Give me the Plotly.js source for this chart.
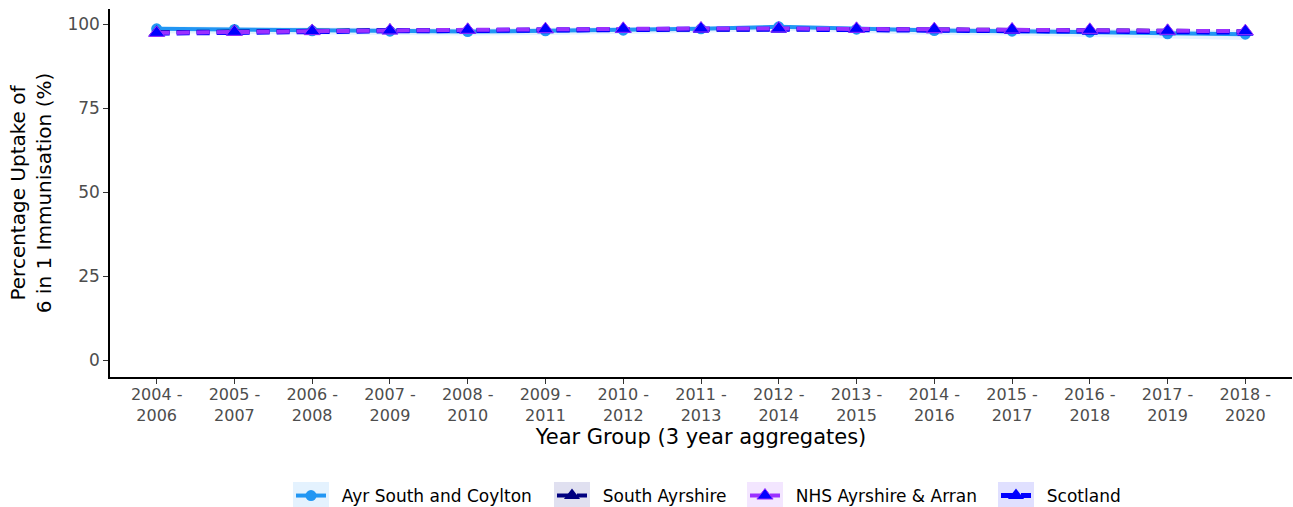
<!DOCTYPE html>
<html><head><meta charset="utf-8">
<script src="https://cdn.plot.ly/plotly-3.0.1.min.js"></script>
<style>html,body{margin:0;padding:0;background:#fff}#chart{width:1293px;height:507px}</style>
</head><body><div id="chart"></div>
<script>
const categories = ["2004 -<br>2006","2005 -<br>2007","2006 -<br>2008","2007 -<br>2009","2008 -<br>2010","2009 -<br>2011","2010 -<br>2012","2011 -<br>2013","2012 -<br>2014","2013 -<br>2015","2014 -<br>2016","2015 -<br>2017","2016 -<br>2018","2017 -<br>2019","2018 -<br>2020"];
const ayrSouth = [98.6, 98.4, 98.0, 97.9, 97.8, 98.0, 98.2, 98.6, 99.2, 98.5, 98.1, 97.9, 97.6, 97.1, 97.0];
const ayrLower = [97.3, 97.1, 96.8, 96.7, 96.6, 96.8, 97.0, 97.4, 98.0, 97.3, 96.8, 96.6, 96.2, 95.6, 95.3];
const ayrUpper = [99.3, 99.2, 98.9, 98.8, 98.7, 98.9, 99.0, 99.3, 99.7, 99.3, 99.0, 98.8, 98.6, 98.2, 98.2];
const southAyrshire = [97.6, 97.9, 98.0, 98.2, 98.3, 98.4, 98.5, 98.6, 98.6, 98.5, 98.4, 98.3, 98.2, 98.0, 97.9];
const nhsAyrshire = [97.4, 97.7, 97.9, 98.1, 98.3, 98.5, 98.6, 98.7, 98.7, 98.6, 98.5, 98.4, 98.3, 98.0, 97.9];
const scotland = [97.3, 97.6, 97.8, 98.0, 98.1, 98.3, 98.4, 98.5, 98.5, 98.4, 98.3, 98.1, 97.9, 97.7, 97.6];
const seriesNames = ["Ayr South and Coylton","South Ayrshire","NHS Ayrshire & Arran","Scotland"];

const W = 1293, H = 507, ML = 110, MR = 1, MT = 9, MB = 130;
const PW = W - ML - MR, PH = H - MT - MB;
const px2x = p => (p - ML) / PW;
const py2y = p => (H - MB - p) / PH;
const pad = s => "\u00A0\u00A0" + s;

const colAyr = "#2196F3", colSA = "#000080", colNHS = "#9B30FF", colSco = "#0000FF";
const dashPat = "13px,7px";
const tri = {symbol:"triangle-up", size:14};
const traces = [
  {x:categories, y:ayrLower, mode:"lines", line:{width:0}, hoverinfo:"skip", showlegend:false},
  {x:categories, y:ayrUpper, mode:"lines", line:{width:0}, fill:"tonexty", fillcolor:"rgba(33,150,243,0.12)", hoverinfo:"skip", showlegend:false},
  {x:categories, y:ayrSouth, name:pad(seriesNames[0]), legend:"legend", mode:"lines+markers", line:{color:colAyr, width:4}, marker:{color:colAyr, size:11, symbol:"circle"}},
  {x:categories, y:southAyrshire, name:pad(seriesNames[1]), legend:"legend2", mode:"lines+markers", line:{color:colSA, width:4, dash:dashPat}, marker:Object.assign({color:colSA}, tri)},
  {x:categories, y:scotland, name:pad(seriesNames[3]), legend:"legend4", mode:"lines+markers", line:{color:colSco, width:5, dash:dashPat}, marker:Object.assign({color:colSco}, tri)},
  {x:categories, y:nhsAyrshire, name:pad(seriesNames[2]), legend:"legend3", mode:"lines+markers", line:{color:colNHS, width:4, dash:dashPat}, marker:Object.assign({color:colSco, line:{color:colNHS, width:1}}, tri)}
];

// legend key backgrounds (pixel boxes) and legend positions
const keyBoxes = [[293,329,"rgba(33,150,243,0.12)"],[554,590,"rgba(0,0,128,0.12)"],[747,783,"rgba(155,48,255,0.12)"],[998,1034,"rgba(0,0,255,0.12)"]];
const shapes = keyBoxes.map(b => ({type:"rect", xref:"paper", yref:"paper", layer:"below", line:{width:0}, fillcolor:b[2],
  x0:px2x(b[0]), x1:px2x(b[1]), y0:py2y(507), y1:py2y(482)}));
const legBase = {orientation:"h", xanchor:"left", yanchor:"middle", yref:"container", y:(H-496)/H, bgcolor:"rgba(0,0,0,0)", font:{size:17}};
const legFor = i => Object.assign({}, legBase, {x:px2x((keyBoxes[i][0]+keyBoxes[i][1])/2 - 20)});

const layout = {
  width:W, height:H,
  margin:{l:ML, r:MR, t:MT, b:MB},
  paper_bgcolor:"#fff", plot_bgcolor:"#fff",
  font:{family:"DejaVu Sans, sans-serif", color:"#000"},
  showlegend:true,
  legend:legFor(0), legend2:legFor(1), legend3:legFor(2), legend4:legFor(3),
  shapes:shapes,
  xaxis:{type:"category", range:[-0.6,14.6], automargin:false, showline:true, linecolor:"#000", linewidth:1.5, ticks:"outside", ticklen:5, tickcolor:"#333",
    ticklabelstandoff:-3,
    showgrid:false, zeroline:false, tickfont:{size:16, color:"#4d4d4d"},
    title:{text:"Year Group (3 year aggregates)", font:{size:21, color:"#000"}, standoff:0}},
  yaxis:{range:[-5,104.5], tickvals:[0,25,50,75,100], automargin:false, showline:true, linecolor:"#000", linewidth:1.5, ticks:"outside", ticklen:5, tickcolor:"#333",
    showgrid:false, zeroline:false, tickfont:{size:17, color:"#4d4d4d"},
    title:{text:"Percentage Uptake of<br>6 in 1 Immunisation (%)", font:{size:20, color:"#000"}, standoff:10}}
};
Plotly.newPlot("chart", traces, layout, {displayModeBar:false});
</script></body></html>
